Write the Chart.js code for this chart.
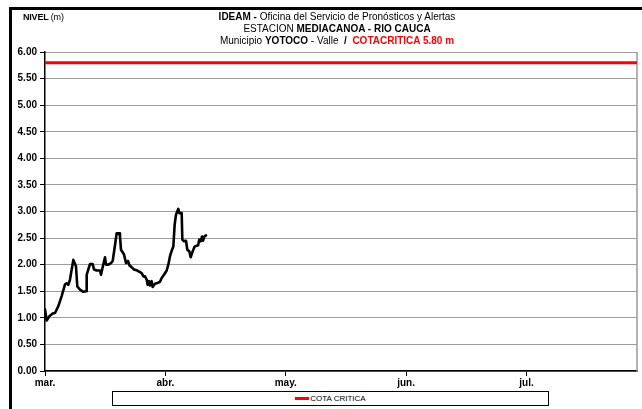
<!DOCTYPE html>
<html>
<head>
<meta charset="utf-8">
<script src="https://cdn.jsdelivr.net/npm/chart.js@4"></script>
<style>
  html, body { margin: 0; padding: 0; background: #fff; }
  #wrap { position: relative; width: 642px; height: 409px; overflow: hidden; background: #fff;
          font-family: "Liberation Sans", Arial, sans-serif; }
  #frame { position: absolute; left: 9px; top: 7px; width: 700px; height: 500px;
           border-top: 3px solid #000; border-left: 3px solid #000; }
  canvas { position: absolute; left: 0; top: 0; }
  #title { position: absolute; left: 137px; width: 400px; top: 11px; text-align: center;
           font-size: 10px; line-height: 12px; color: #000; white-space: nowrap; }
  #nivel { position: absolute; left: 23px; top: 12px; font-size: 9px; color: #000; letter-spacing: -0.2px; }
  #legend { position: absolute; left: 112px; top: 391px; width: 437px; height: 15px;
            border: 1px solid #000; box-sizing: border-box; background: #fff;
            display: flex; align-items: center; justify-content: center; font-size: 8px; }
  #legend .sw { display: inline-block; width: 14px; height: 3px; background: #ff0000; margin-right: 1px; }
  .red { color: #ff0000; }
</style>
</head>
<body>
<div id="wrap">
  <canvas id="c" width="642" height="409"></canvas>
  <div id="frame"></div>
  <div id="nivel"><b>NIVEL</b> (m)</div>
  <div id="title">
    <div><b>IDEAM - </b>Oficina del Servicio de Pronósticos y Alertas</div>
    <div>ESTACION <b>MEDIACANOA - RIO CAUCA</b></div>
    <div>Municipio <b>YOTOCO</b> - Valle <b>&nbsp;/&nbsp;</b> <b class="red">COTACRITICA 5.80 m</b></div>
  </div>
  <div id="legend"><span class="sw"></span><span>COTA CRITICA</span></div>
</div>
<script>
// ---- data ----
const monthLabels = ['mar.', 'abr.', 'may.', 'jun.', 'jul.'];
const monthTickDays = [0, 30.5, 61, 91.5, 122];
const yTickValues = [0, 0.5, 1, 1.5, 2, 2.5, 3, 3.5, 4, 4.5, 5, 5.5, 6];

// days since 1 March
const levelDays = [0, 0.42, 1.10, 1.94, 2.53, 3.38, 4.22, 5.07, 5.5, 5.91, 6.33, 7.18, 7.85, 8.19, 8.87,
  9.71, 10.39, 10.56, 10.98, 11.40, 12.08, 12.42, 13.09, 13.94, 14.19, 14.61, 15.20, 15.46, 16.05,
  16.72, 17.15, 17.57, 18.16, 18.75, 19.00, 19.26, 20.02, 20.52, 21.03, 21.37, 21.96, 22.55, 23.40,
  24.07, 24.49, 24.92, 25.34, 25.76, 26.01, 26.35, 26.60, 27.03, 27.28, 27.87, 28.72, 29.14, 29.56,
  30.15, 30.83, 31.25, 31.67, 32.09, 32.52, 32.85, 33.19, 33.78, 34.04, 34.63, 34.80, 35.22, 35.73,
  36.06, 36.57, 36.91, 37.42, 37.92, 38.43, 38.77, 39.10, 39.44, 39.78, 40.03, 40.37, 40.79];
const levelValues = [1.16, 0.95, 1.03, 1.08, 1.09, 1.22, 1.41, 1.63, 1.65, 1.62, 1.72, 2.09, 1.97, 1.59, 1.53,
  1.49, 1.50, 1.81, 1.91, 2.01, 2.01, 1.91, 1.89, 1.89, 1.81, 1.95, 2.14, 2.00, 2.00,
  2.03, 2.07, 2.28, 2.59, 2.59, 2.53, 2.28, 2.19, 2.03, 2.07, 1.99, 1.95, 1.91, 1.89,
  1.86, 1.84, 1.78, 1.78, 1.72, 1.62, 1.69, 1.61, 1.69, 1.58, 1.64, 1.66, 1.68, 1.75,
  1.81, 1.89, 2.00, 2.16, 2.26, 2.34, 2.75, 2.94, 3.05, 2.97, 2.97, 2.47, 2.44, 2.45,
  2.28, 2.25, 2.14, 2.25, 2.34, 2.36, 2.36, 2.47, 2.44, 2.53, 2.45, 2.53, 2.55];

const criticalDays = [0, 150];
const criticalValues = [5.8, 5.8];
const xMin = 0, xMax = 150;

// ---- chart ----
Chart.defaults.font.family = '"Liberation Sans", Arial, sans-serif';
Chart.defaults.color = '#000';

const plotBorder = {
  id: 'plotBorder',
  beforeDatasetsDraw(chart) {
    const { ctx, chartArea: a } = chart;
    ctx.save();
    ctx.strokeStyle = '#9a9a9a';
    ctx.lineWidth = 1.5;
    ctx.beginPath();
    ctx.moveTo(a.right, a.top);
    ctx.lineTo(a.right, a.bottom);
    ctx.stroke();
    ctx.restore();
  }
};

new Chart(document.getElementById('c'), {
  type: 'line',
  data: {
    datasets: [
      {
        label: 'NIVEL',
        data: levelDays.map((d, i) => ({ x: d, y: levelValues[i] })),
        borderColor: '#000',
        borderWidth: 2.6,
        pointRadius: 0,
        tension: 0,
        borderJoinStyle: 'round',
        borderCapStyle: 'round'
      },
      {
        label: 'COTA CRITICA',
        data: criticalDays.map((d, i) => ({ x: d, y: criticalValues[i] })),
        borderColor: '#ff0000',
        borderWidth: 3,
        pointRadius: 0
      }
    ]
  },
  options: {
    responsive: false,
    animation: false,
    devicePixelRatio: 1,
    layout: { padding: { top: 52, right: 5, bottom: 0, left: 0 } },
    plugins: { legend: { display: false }, title: { display: false }, tooltip: { enabled: false } },
    scales: {
      x: {
        type: 'linear',
        min: xMin, max: xMax,
        afterBuildTicks: s => { s.ticks = monthTickDays.map(v => ({ value: v })); },
        afterFit: s => { s.height = 38; },
        ticks: {
          autoSkip: false, maxRotation: 0, padding: 1,
          font: { size: 10, weight: 'bold' },
          callback: (v, i) => monthLabels[i]
        },
        grid: { drawOnChartArea: false, drawTicks: true, tickLength: 5, tickColor: '#000', tickWidth: 1 },
        border: { display: true, color: '#000', width: 1.5 }
      },
      y: {
        min: 0, max: 6,
        afterBuildTicks: s => { s.ticks = yTickValues.map(v => ({ value: v })); },
        afterFit: s => { s.width = 45; },
        ticks: {
          padding: 3,
          font: { size: 10, weight: 'bold' },
          callback: v => Number(v).toFixed(2)
        },
        grid: { color: '#3a3a3a', lineWidth: 1, tickLength: 5, tickColor: '#000', tickWidth: 1, tickBorderDash: [] },
        border: { display: true, color: '#000', width: 1.5, dash: [1, 1] }
      }
    }
  },
  plugins: [plotBorder]
});
</script>
</body>
</html>
